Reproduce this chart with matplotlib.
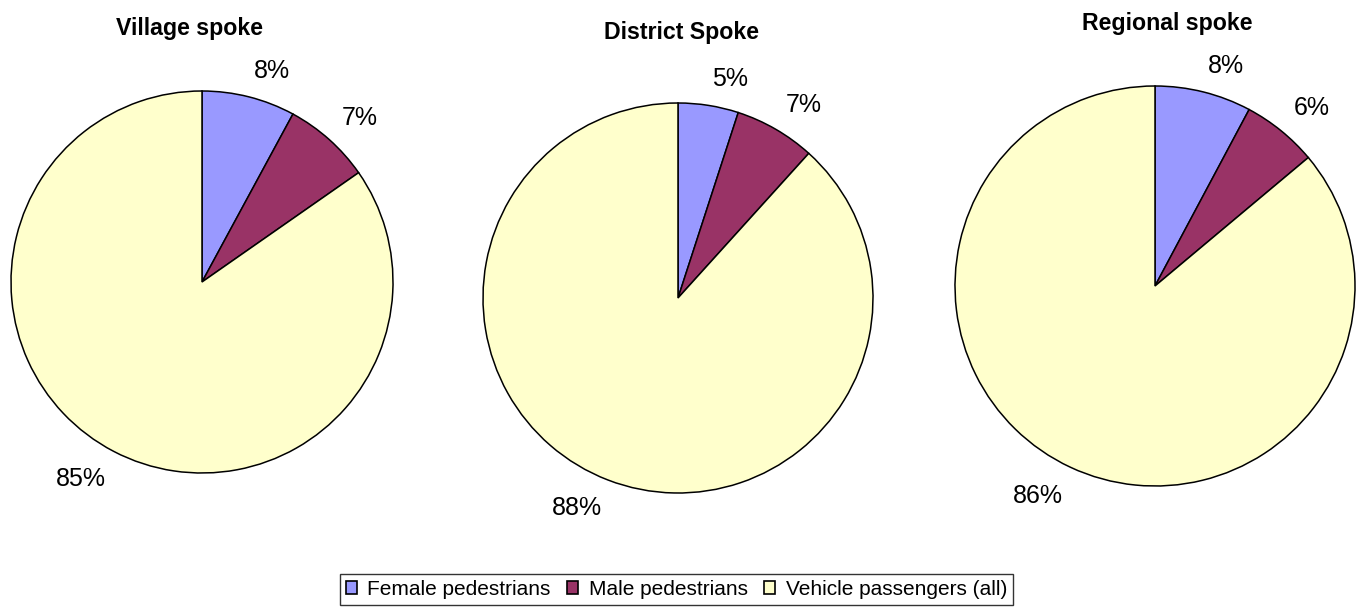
import numpy as np
import matplotlib
matplotlib.use('Agg')
import matplotlib.pyplot as plt
from matplotlib.patches import Patch

plt.rcParams['font.family'] = ['Liberation Sans', 'DejaVu Sans']

# data (percent of traffic)
categories = ['Female pedestrians', 'Male pedestrians', 'Vehicle passengers (all)']
titles = ['Village spoke', 'District Spoke', 'Regional spoke']
village = [7.9, 7.4, 84.7]
district = [5.0, 6.7, 88.3]
regional = [7.8, 6.1, 86.1]
colors = ['#9999FF', '#993366', '#FFFFCC']

W, H = 1356, 609
fig = plt.figure(figsize=(W/100, H/100), dpi=100)

# pie centre (px), radius (px), title baseline (px)
pies = [(village, (202, 282), 191, (189, 35)),
        (district, (678, 298), 195, (682, 39)),
        (regional, (1155, 286), 200, (1167, 30))]

for (vals, (cx, cy), r, (tx, ty)), title in zip(pies, titles):
    ax = fig.add_axes([(cx-r)/W, (H-cy-r)/H, 2*r/W, 2*r/H])
    wedges, _ = ax.pie(vals, colors=colors, startangle=90, counterclock=False,
                       wedgeprops=dict(edgecolor='black', linewidth=1.1))
    # excel-style labels: corner of the text box sits just outside the wedge
    for w, v in zip(wedges, vals):
        ang = np.deg2rad((w.theta1 + w.theta2) / 2)
        x, y = np.cos(ang), np.sin(ang)
        d = 1.1 if y > 0 else 1.09
        ax.text(d*x, d*y, '%.0f%%' % v, fontsize=18,
                ha='left' if x > 0 else 'right',
                va='baseline' if y > 0 else 'top')
    ax.set_xlim(-1, 1)
    ax.set_ylim(-1, 1)
    ax.set_aspect('equal')
    ax.axis('off')
    fig.text(tx/W, 1-ty/H, title, ha='center', va='baseline', fontsize=16.7, fontweight='bold')

handles = [Patch(facecolor=c, edgecolor='black', linewidth=1.2) for c in colors]
leg = fig.legend(handles, categories, loc='center', bbox_to_anchor=(676.5/W, 1-589.5/H),
                 ncol=3, fontsize=15, frameon=True, fancybox=False,
                 handlelength=0.53, handleheight=0.53, handletextpad=0.5, columnspacing=0.8,
                 borderpad=0.3, borderaxespad=0)
leg.get_frame().set_edgecolor('black')
leg.get_frame().set_linewidth(1.0)

plt.savefig('out.png', dpi=100)
